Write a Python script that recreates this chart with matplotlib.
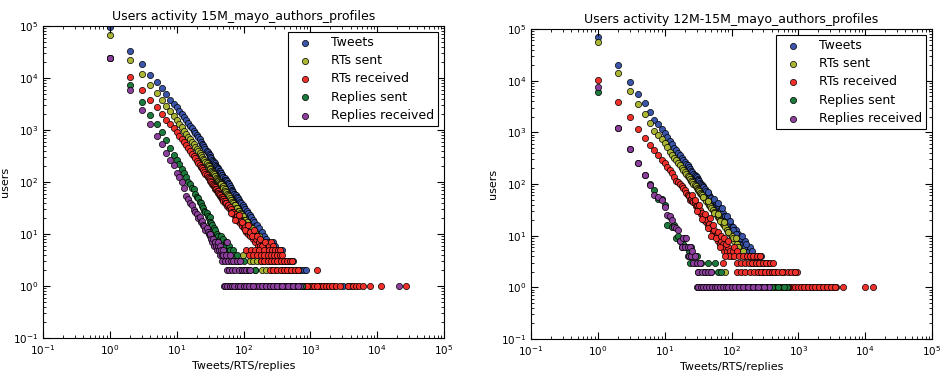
import matplotlib
matplotlib.use('Agg')
from matplotlib import pyplot as plt

# ---- 15M_mayo (left panel) ----
tw_a_x = [1, 2, 3, 4, 5, 6, 7, 8, 9, 10, 11, 12, 13, 14, 15, 16, 17, 18, 19, 20, 21, 22, 23, 24, 25, 26, 27, 28, 29, 30,
          31, 32, 33, 34, 35, 36, 37, 38, 39, 40, 41, 42, 43, 44, 45, 46, 47, 48, 49, 50, 52, 53, 54, 55, 56, 57, 58, 59, 60,
          62, 63, 64, 65, 67, 68, 70, 71, 73, 74, 76, 77, 79, 80, 82, 84, 85, 87, 89, 91, 93, 95, 97, 100, 102, 105, 107,
          110, 112, 115, 118, 121, 124, 127, 130, 134, 137, 141, 145, 150, 154, 158, 163, 168, 173, 178, 184, 190, 196, 203,
          210, 218, 226, 234, 243, 252, 262, 275, 290, 300, 318, 335, 350, 365, 380, 260, 280, 300, 330, 360, 395, 420, 450,
          480, 510, 550, 420, 460, 500, 540, 600, 640, 680, 730, 800, 870, 560, 620, 700, 760, 850, 950, 1050, 1200, 1400,
          1700, 2200, 3100, 3600, 4100]
tw_a_y = [97000, 33000, 18300, 11500, 8200, 6300, 4900, 3800, 3200, 2750, 2350, 2050, 1780, 1560, 1380, 1220, 1090, 970, 880,
          800, 730, 660, 600, 550, 505, 465, 430, 400, 372, 345, 325, 305, 287, 268, 255, 240, 228, 215, 205, 196, 183, 180,
          166, 162, 150, 149, 138, 137, 126, 125, 118, 107, 110, 100, 104, 93, 96, 88, 90, 80, 84, 74, 78, 70, 66, 65, 58, 60,
          54, 56, 50, 52, 46, 49, 43, 46, 40, 42, 37, 39, 34, 36, 31, 33, 28, 30, 26, 28, 23, 25, 21, 23, 19, 21, 17, 19, 15,
          17, 14, 12, 15, 12, 11, 13, 10, 9, 11, 8, 9, 7, 8, 6, 7, 6, 5, 6, 7, 5, 6, 5, 4, 5, 4, 5, 4, 4, 4, 4, 4, 3, 3, 3,
          3, 3, 3, 2, 2, 2, 2, 2, 2, 2, 2, 2, 2, 1, 1, 1, 1, 1, 1, 1, 1, 1, 1, 1, 1, 1, 1]
tw_a_ones = [300, 330, 380, 450, 520, 650, 900, 1100, 1300, 1550]

rs_a_x = [1, 2, 3, 4, 5, 6, 7, 8, 9, 10, 11, 12, 13, 14, 15, 16, 17, 18, 19, 20, 21, 22, 23, 24, 25, 26, 27, 28, 29, 30,
          31, 32, 33, 34, 35, 36, 37, 38, 39, 40, 41, 42, 43, 44, 45, 46, 48, 49, 50, 52, 53, 55, 56, 58, 60, 62, 64, 66, 68,
          70, 72, 75, 78, 80, 83, 86, 89, 92, 95, 98, 102, 106, 110, 114, 118, 122, 127, 132, 137, 142, 148, 155, 162, 170,
          178, 186, 195, 205, 215, 228, 240, 255, 270, 290, 98, 125, 140, 160, 180, 200, 230, 260, 300, 340, 150, 190, 220,
          260, 310, 360, 420, 480, 250, 300, 350, 400, 450, 520, 600, 680, 780, 900, 1100, 1400, 1800]
rs_a_y = [67000, 22500, 12100, 7300, 5200, 3740, 2900, 2330, 1850, 1550, 1300, 1120, 960, 840, 740, 660, 590, 530, 475, 430,
          395, 360, 330, 305, 282, 262, 243, 228, 212, 200, 186, 177, 165, 158, 148, 142, 133, 128, 120, 116, 108, 106, 98,
          97, 90, 90, 80, 82, 75, 72, 66, 64, 60, 57, 53, 50, 46, 45, 41, 40, 36, 36, 31, 32, 28, 28, 25, 24, 21, 22, 19, 19,
          16, 17, 14, 15, 12, 13, 11, 10, 11, 9, 8, 9, 7, 7, 6, 6, 5, 5, 4, 4, 5, 4, 4, 3, 3, 3, 3, 3, 3, 3, 3, 3, 2, 2, 2,
          2, 2, 2, 2, 2, 1, 1, 1, 1, 1, 1, 1, 1, 1, 1, 1, 1, 1]
rs_a_ones = [200, 220, 280, 330, 380, 430, 480, 560, 640, 730, 840, 1000, 1250]

rr_a_x = [1, 2, 3, 4, 5, 6, 7, 8, 9, 10, 11, 12, 13, 14, 15, 16, 17, 18, 19, 20, 21, 22, 23, 24, 25, 26, 27, 28, 29, 30,
          31, 32, 33, 34, 35, 36, 37, 38, 39, 40, 41, 42, 43, 44, 45, 46, 47, 48, 49, 50, 52, 53, 55, 56, 58, 60, 62, 64, 66,
          68, 70, 72, 75, 78, 80, 83, 86, 89, 92, 95, 98, 102, 106, 110, 114, 118, 122, 127, 132, 137, 142, 148, 155, 162,
          170, 178, 186, 195, 205, 215, 225, 65, 75, 85, 95, 105, 115, 125, 135, 145, 160, 175, 190, 210, 240, 260, 280,
          110, 130, 150, 170, 200, 240, 270, 300, 330, 350, 120, 140, 160, 180, 200, 230, 260, 290, 320, 350, 380,
          180, 200, 230, 260, 290, 320, 360, 400, 450, 500, 540, 250, 280, 320, 360, 400, 450, 520, 580, 650, 1250,
          300, 350, 400, 480, 560, 650, 750, 1050, 1400, 1550, 1700, 1900, 2100, 2400, 2800, 3700, 4300, 4800, 5300, 6200,
          7900, 11500, 27000]
rr_a_y = [24500, 10300, 5800, 3800, 2750, 2000, 1590, 1300, 1100, 920, 780, 670, 580, 505, 445, 395, 350, 315, 285, 258,
          235, 215, 198, 182, 168, 155, 144, 134, 125, 117, 112, 103, 99, 92, 88, 82, 80, 74, 72, 67, 66, 61, 60, 55, 56, 51,
          52, 47, 48, 44, 43, 39, 39, 35, 36, 32, 33, 29, 30, 26, 27, 23, 24, 20, 22, 18, 20, 16, 18, 14, 16, 13, 14, 11, 12,
          10, 11, 9, 10, 8, 9, 7, 8, 6, 7, 6, 5, 7, 5, 6, 5, 25, 19, 23, 17, 12, 15, 11, 9, 12, 9, 8, 6, 7, 6, 7, 6,
          5, 5, 5, 5, 5, 5, 5, 5, 5, 5, 4, 4, 4, 4, 4, 4, 4, 4, 4, 4, 4,
          3, 3, 3, 3, 3, 3, 3, 3, 3, 3, 3, 2, 2, 2, 2, 2, 2, 2, 2, 2, 2,
          1, 1, 1, 1, 1, 1, 1, 1, 1, 1, 1, 1, 1, 1, 1, 1, 1, 1, 1, 1, 1, 1, 1]
rr_a_ones = [180, 220, 260, 330, 370, 440, 520, 600, 700, 820, 900, 1150, 1250]

ps_a_x = [1, 2, 3, 4, 5, 6, 7, 8, 9, 10, 11, 12, 13, 14, 15, 16, 17, 18, 19, 20, 21, 22, 23, 24, 25, 26, 27, 28, 29, 30,
          31, 32, 33, 34, 35, 36, 37, 38, 40, 42, 44, 46, 48, 50, 52, 55, 58, 60, 63, 66, 70, 73, 76, 80, 85, 90, 100, 110,
          120, 130, 150, 180, 220, 280, 350, 450, 600, 760]
ps_a_y = [24500, 7300, 3460, 1960, 1290, 930, 650, 460, 330, 270, 220, 180, 150, 125, 100, 92, 78, 72, 60, 52, 50, 42, 40, 34,
          32, 28, 27, 25, 22, 20, 21, 17, 16, 15, 12, 13, 11, 12, 10, 9, 8, 9, 7, 8, 6, 7, 5, 6, 5, 4, 5, 4, 3, 4, 3, 2, 3, 2,
          2, 1, 2, 1, 1, 1, 1, 1, 1, 1]

pr_a_x = [1, 2, 3, 4, 5, 6, 7, 8, 9, 10, 11, 12, 13, 14, 15, 16, 17, 18, 19, 20, 21, 22, 23, 24, 25, 26, 27, 28, 29, 30,
          31, 32, 33, 34, 35, 36, 37, 38, 39, 40, 41, 42, 43, 44, 45, 46, 47, 48, 49, 50, 52, 54, 56, 57, 58, 60, 62, 65, 68,
          70, 75, 80, 85, 90, 95, 100, 110, 120, 125, 51, 55, 60, 65, 70, 78, 85, 95, 105, 115, 130, 145, 160, 180, 200,
          230, 260, 300, 350, 420, 500, 600, 700, 21000]
pr_a_y = [24500, 5900, 2400, 1290, 780, 530, 360, 270, 210, 150, 125, 100, 78, 55, 48, 40, 36, 29, 27, 24, 20, 21, 17, 18, 15,
          14, 12, 13, 11, 10, 9, 10, 8, 7, 8, 6, 7, 7, 6, 5, 6, 7, 5, 4, 6, 5, 4, 3, 5, 4, 3, 4, 2, 7, 3, 2, 4, 3, 2, 3, 2, 3,
          2, 3, 2, 2, 2, 2, 2, 1, 1, 1, 1, 1, 1, 1, 1, 1, 1, 1, 1, 1, 1, 1, 1, 1, 1, 1, 1, 1, 1, 1, 1]
pr_a_ones = [53, 57, 62, 67, 73, 82, 90, 100, 110, 122, 138, 170, 190, 215, 245, 280, 320, 380, 460, 550, 650]

# ---- 12M-15M_mayo (right panel) ----
tw_b_x = [1, 2, 3, 4, 5, 6, 7, 8, 9, 10, 11, 12, 13, 14, 15, 16, 17, 18, 19, 20, 21, 22, 23, 24, 25, 26, 27, 28, 29, 30,
          31, 32, 33, 34, 35, 36, 37, 38, 40, 42, 44, 46, 48, 50, 52, 55, 58, 60, 63, 65, 68, 70, 73, 75, 78, 80, 85, 90, 95,
          100, 105, 110, 115, 120, 125, 130, 140, 150, 160, 170, 180, 190, 200, 45, 55, 62, 72, 85, 95, 105, 115, 135, 145,
          155, 165, 220, 250, 280, 200, 240, 280, 320, 355, 300, 380, 450, 560, 250, 300, 360, 420, 500, 600, 700]
tw_b_y = [71000, 20200, 9600, 5630, 3720, 2500, 1740, 1440, 1150, 950, 800, 690, 590, 500, 450, 400, 360, 325, 295, 270, 245,
          230, 210, 195, 180, 170, 158, 150, 140, 135, 125, 120, 112, 105, 100, 95, 92, 87, 80, 72, 66, 62, 56, 54, 49, 46,
          41, 40, 36, 35, 31, 31, 27, 27, 24, 24, 21, 20, 17, 15, 15, 12, 13, 10, 11, 9, 8, 7, 8, 6, 5, 6, 5, 70, 52, 43, 35,
          24, 19, 13, 11, 9, 10, 6, 7, 4, 4, 4, 3, 3, 3, 3, 3, 2, 2, 2, 2, 1, 1, 1, 1, 1, 1, 1]
tw_b_ones = [280, 330, 390, 460, 540, 650]

rs_b_x = [1, 2, 3, 4, 5, 6, 7, 8, 9, 10, 11, 12, 13, 14, 15, 16, 17, 18, 19, 20, 21, 22, 23, 24, 25, 26, 27, 28, 29, 30,
          31, 32, 33, 34, 35, 36, 38, 40, 42, 44, 46, 48, 50, 52, 55, 58, 60, 63, 65, 68, 70, 73, 75, 78, 80, 85, 90, 95, 100,
          110, 120, 130, 140, 37, 45, 54, 62, 67, 77, 88, 105, 115, 125, 150, 160, 180, 200, 220, 80, 250, 300, 350, 300,
          400, 500, 600]
rs_b_y = [55600, 14000, 6450, 3600, 2240, 1500, 1080, 890, 750, 620, 520, 420, 370, 325, 290, 255, 230, 205, 185, 170, 155,
          145, 135, 125, 115, 108, 100, 95, 90, 85, 80, 76, 72, 68, 64, 61, 56, 51, 47, 43, 40, 37, 34, 32, 29, 27, 25, 23, 22,
          20, 19, 18, 17, 16, 15, 13, 12, 11, 10, 8, 7, 6, 5, 55, 46, 28, 26, 19, 18, 12, 9, 9, 6, 5, 4, 4, 3, 3, 2, 2, 2, 2,
          1, 1, 1, 1]
rs_b_ones = [220, 260, 330, 450, 550, 650, 700]

rr_b_x = [1, 2, 3, 4, 5, 6, 7, 8, 9, 10, 11, 12, 13, 14, 15, 16, 17, 18, 19, 20, 21, 22, 23, 24, 25, 26, 27, 28, 29, 30,
          31, 32, 33, 34, 35, 36, 37, 38, 39, 40, 42, 43, 45, 46, 48, 50, 52, 55, 57, 60, 62, 65, 68, 70, 72, 75, 78, 80, 85,
          90, 95, 100, 26, 28, 30, 33, 36, 40, 44, 47, 50, 53, 58, 63, 67, 70, 76, 82, 88, 92, 105, 110, 120,
          80, 110, 130, 150, 170, 190, 210, 240, 270, 75, 120, 140, 160, 180, 200, 230, 260, 300, 330, 380, 420,
          120, 140, 160, 190, 220, 250, 280, 320, 360, 400, 430, 500, 620, 850, 950,
          200, 260, 330, 420, 750, 820, 900, 1000, 1150, 1300, 1500, 1700, 1950, 2200, 2500, 2900, 3300, 3700, 4700, 10000,
          13000]
rr_b_y = [10200, 3890, 1970, 1170, 790, 565, 460, 370, 290, 250, 215, 188, 160, 135, 115, 108, 98, 90, 83, 75, 66, 62, 58, 50,
          52, 46, 44, 42, 38, 38, 33, 35, 30, 32, 26, 27, 22, 24, 20, 21, 18, 20, 16, 17, 14, 15, 12, 13, 10, 11, 8, 9, 7, 8,
          6, 7, 5, 6, 5, 6, 5, 4, 60, 48, 30, 40, 21, 26, 14, 22, 10, 16, 9, 12, 6, 10, 9, 7, 8, 4, 5, 6, 5,
          4, 4, 4, 4, 4, 4, 4, 4, 4, 3, 3, 3, 3, 3, 3, 3, 3, 3, 3, 3, 3,
          2, 2, 2, 2, 2, 2, 2, 2, 2, 2, 2, 2, 2, 2, 2,
          1, 1, 1, 1, 1, 1, 1, 1, 1, 1, 1, 1, 1, 1, 1, 1, 1, 1, 1, 1, 1]
rr_b_twos = [560, 700, 780, 900]
rr_b_ones = [580, 650, 700, 1080, 1220, 1400, 1600, 1800, 2050, 2350, 2700, 3100, 3500]

ps_b_x = [1, 2, 3, 4, 5, 6, 7, 8, 9, 10, 11, 12, 13, 14, 15, 16, 17, 18, 19, 20, 21, 22, 23, 24, 25, 26, 28, 30, 32, 35, 40,
          45, 50, 57, 63, 70, 80, 100, 150, 200, 300, 400, 680]
ps_b_y = [6070, 1210, 480, 255, 150, 100, 77, 52, 52, 39, 16, 23, 15, 16, 9, 10, 8, 6, 7, 9, 6, 4, 5, 3, 6, 4, 3, 4, 2, 3, 2,
          3, 2, 3, 2, 2, 1, 1, 1, 1, 1, 1, 1]
ps_b_ones = [120, 170, 250, 500, 600]

pr_b_x = [1, 2, 3, 4, 5, 6, 7, 8, 9, 10, 11, 12, 13, 14, 15, 16, 17, 18, 19, 20, 21, 22, 23, 24, 25, 26, 27, 28, 30, 32, 34,
          36, 40, 45, 50, 30, 33, 36, 40, 44, 48, 53, 58, 64, 70, 78, 86, 95, 105, 120, 140, 160, 190, 230, 280, 340, 370]
pr_b_y = [7480, 1210, 480, 250, 150, 97, 62, 57, 48, 36, 25, 24, 20, 15, 14, 13, 8, 6, 9, 6, 9, 6, 4, 6, 4, 5, 3, 4, 3, 2, 3,
          2, 2, 2, 2, 1, 1, 1, 1, 1, 1, 1, 1, 1, 1, 1, 1, 1, 1, 1, 1, 1, 1, 1, 1, 1, 1]
pr_b_ones = [31, 35, 38, 42, 46, 51, 56, 61, 67, 74, 82, 90, 100, 112, 130, 150, 175, 210, 250, 310]

labels = ['Tweets', 'RTs sent', 'RTs received', 'Replies sent', 'Replies received']
colors = ['#3a55aa', '#aab534', '#f0302a', '#1c7a3c', '#8c3f9c']


def series(x, y, twos=(), ones=()):
    xs = list(x) + list(twos) + list(ones)
    ys = list(y) + [2] * len(twos) + [1] * len(ones)
    return xs, ys


panels = [
    ('Users activity 15M_mayo_authors_profiles',
     [series(tw_a_x, tw_a_y, ones=tw_a_ones), series(rs_a_x, rs_a_y, ones=rs_a_ones),
      series(rr_a_x, rr_a_y, ones=rr_a_ones), series(ps_a_x, ps_a_y), series(pr_a_x, pr_a_y, ones=pr_a_ones)],
     [43 / 943, 33 / 371, 401 / 943, 312 / 371]),
    ('Users activity 12M-15M_mayo_authors_profiles',
     [series(tw_b_x, tw_b_y, ones=tw_b_ones), series(rs_b_x, rs_b_y, ones=rs_b_ones),
      series(rr_b_x, rr_b_y, twos=rr_b_twos, ones=rr_b_ones), series(ps_b_x, ps_b_y, ones=ps_b_ones),
      series(pr_b_x, pr_b_y, ones=pr_b_ones)],
     [531 / 943, 32 / 371, 401 / 943, 310 / 371]),
]

fig = plt.figure(figsize=(9.43, 3.71), dpi=100)
for title, data, rect in panels:
    ax = fig.add_axes(rect)
    for (x, y), lab, col in zip(data, labels, colors):
        ax.scatter(x, y, s=20, c=col, edgecolors='black', linewidths=0.5, label=lab)
    ax.set_xscale('log')
    ax.set_yscale('log')
    ax.set_xlim(0.1, 1e5)
    ax.set_ylim(0.1, 1e5)
    ax.set_title(title, fontsize=9, pad=4)
    ax.set_xlabel('Tweets/RTS/replies', fontsize=8, labelpad=3)
    ax.set_ylabel('users', fontsize=8, labelpad=2)
    ax.tick_params(which='both', direction='in', top=True, right=True, labelsize=7.5)
    ax.tick_params(which='major', length=5)
    ax.tick_params(which='minor', length=2.5)
    leg = ax.legend(loc='upper right', scatterpoints=1, fontsize=9, fancybox=False, framealpha=1,
                    edgecolor='black', borderaxespad=0.45, handletextpad=1.1, labelspacing=0.42,
                    borderpad=0.35)
    leg.get_frame().set_linewidth(0.8)

fig.savefig('out.png', dpi=100)
